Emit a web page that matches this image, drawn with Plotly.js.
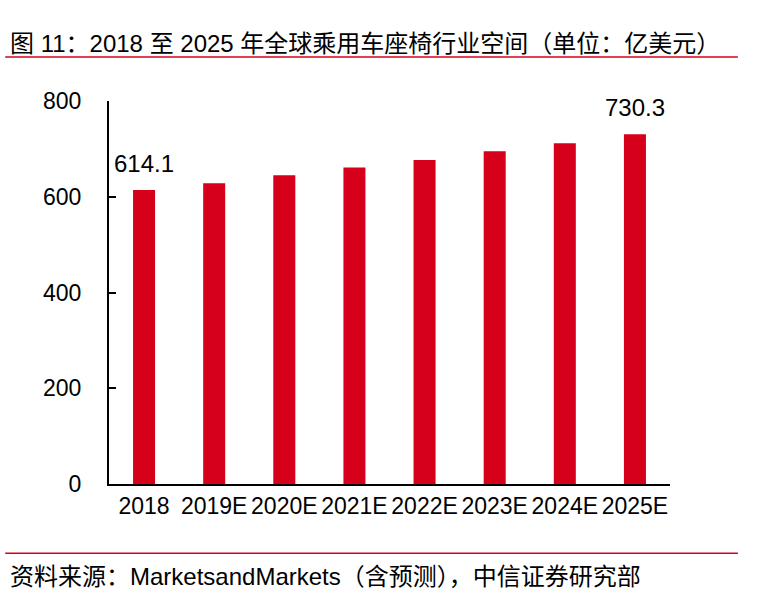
<!DOCTYPE html>
<html>
<head>
<meta charset="utf-8">
<script src="https://cdn.plot.ly/plotly-3.0.1.min.js"></script>
<style>
html,body{margin:0;padding:0;background:#fff;}
#chart{width:775px;height:603px;}
</style>
</head>
<body>
<div id="chart"></div>
<script>
const categories = ['2018', '2019E', '2020E', '2021E', '2022E', '2023E', '2024E', '2025E'];
const values = [614.1, 628, 645, 661, 677, 695, 712, 730.3];
const labelIdx = [0, 7];
const titleText = '图 11：2018 至 2025 年全球乘用车座椅行业空间（单位：亿美元）';
const sourceText = '资料来源：MarketsandMarkets（含预测），中信证券研究部';
const yTicks = [0, 200, 400, 600, 800];

const positions = categories.map((c, i) => i);
const fontFam = '"Liberation Sans", Arial, sans-serif';
const mixFam = '"Liberation Sans", Arial, "Noto Sans CJK SC", sans-serif';
const red = '#d7001a';

const trace = {
  type: 'bar',
  x: positions,
  y: values,
  width: 0.314,
  marker: {color: red, line: {width: 0}},
  hoverinfo: 'y'
};

const annotations = labelIdx.map(i => ({
  x: positions[i], y: values[i], xref: 'x', yref: 'y',
  text: String(values[i]), showarrow: false,
  yanchor: 'bottom', yshift: 11,
  font: {family: fontFam, size: 24, color: '#000'}
}));

annotations.push({
  xref: 'paper', yref: 'paper', x: -0.18, y: 1.15, xanchor: 'left', yanchor: 'middle',
  text: titleText, showarrow: false,
  font: {family: mixFam, size: 24, color: '#000'}
});
annotations.push({
  xref: 'paper', yref: 'paper', x: -0.18, y: -0.242, xanchor: 'left', yanchor: 'middle',
  text: sourceText, showarrow: false,
  font: {family: mixFam, size: 24, color: '#000'}
});

const layout = {
  width: 775, height: 603,
  margin: {l: 109, r: 105, t: 101, b: 119},
  paper_bgcolor: '#fff', plot_bgcolor: '#fff',
  showlegend: false,
  font: {family: fontFam, size: 23, color: '#000'},
  xaxis: {
    type: 'linear', range: [-0.5, categories.length - 0.5],
    tickvals: positions, ticktext: categories,
    showgrid: false, zeroline: false,
    showline: true, linecolor: '#000', linewidth: 2,
    ticks: '', tickfont: {family: fontFam, size: 23, color: '#000'}
  },
  yaxis: {
    type: 'linear', range: [0, 800], tickvals: yTicks, showgrid: false, zeroline: false,
    showline: true, linecolor: '#000', linewidth: 2,
    ticks: 'inside', ticklen: 7, tickwidth: 2, tickcolor: '#000',
    ticklabelstandoff: 21,
    tickfont: {family: fontFam, size: 23, color: '#000'}
  },
  annotations: annotations,
  shapes: [
    {type: 'line', xref: 'paper', yref: 'paper', x0: -0.185, x1: 1.121, y0: 1.115, y1: 1.115,
     line: {color: red, width: 1.5}},
    {type: 'line', xref: 'paper', yref: 'paper', x0: -0.185, x1: 1.121, y0: -0.181, y1: -0.181,
     line: {color: red, width: 1.5}}
  ]
};

Plotly.newPlot('chart', [trace], layout, {displayModeBar: false, staticPlot: true});
</script>
</body>
</html>
